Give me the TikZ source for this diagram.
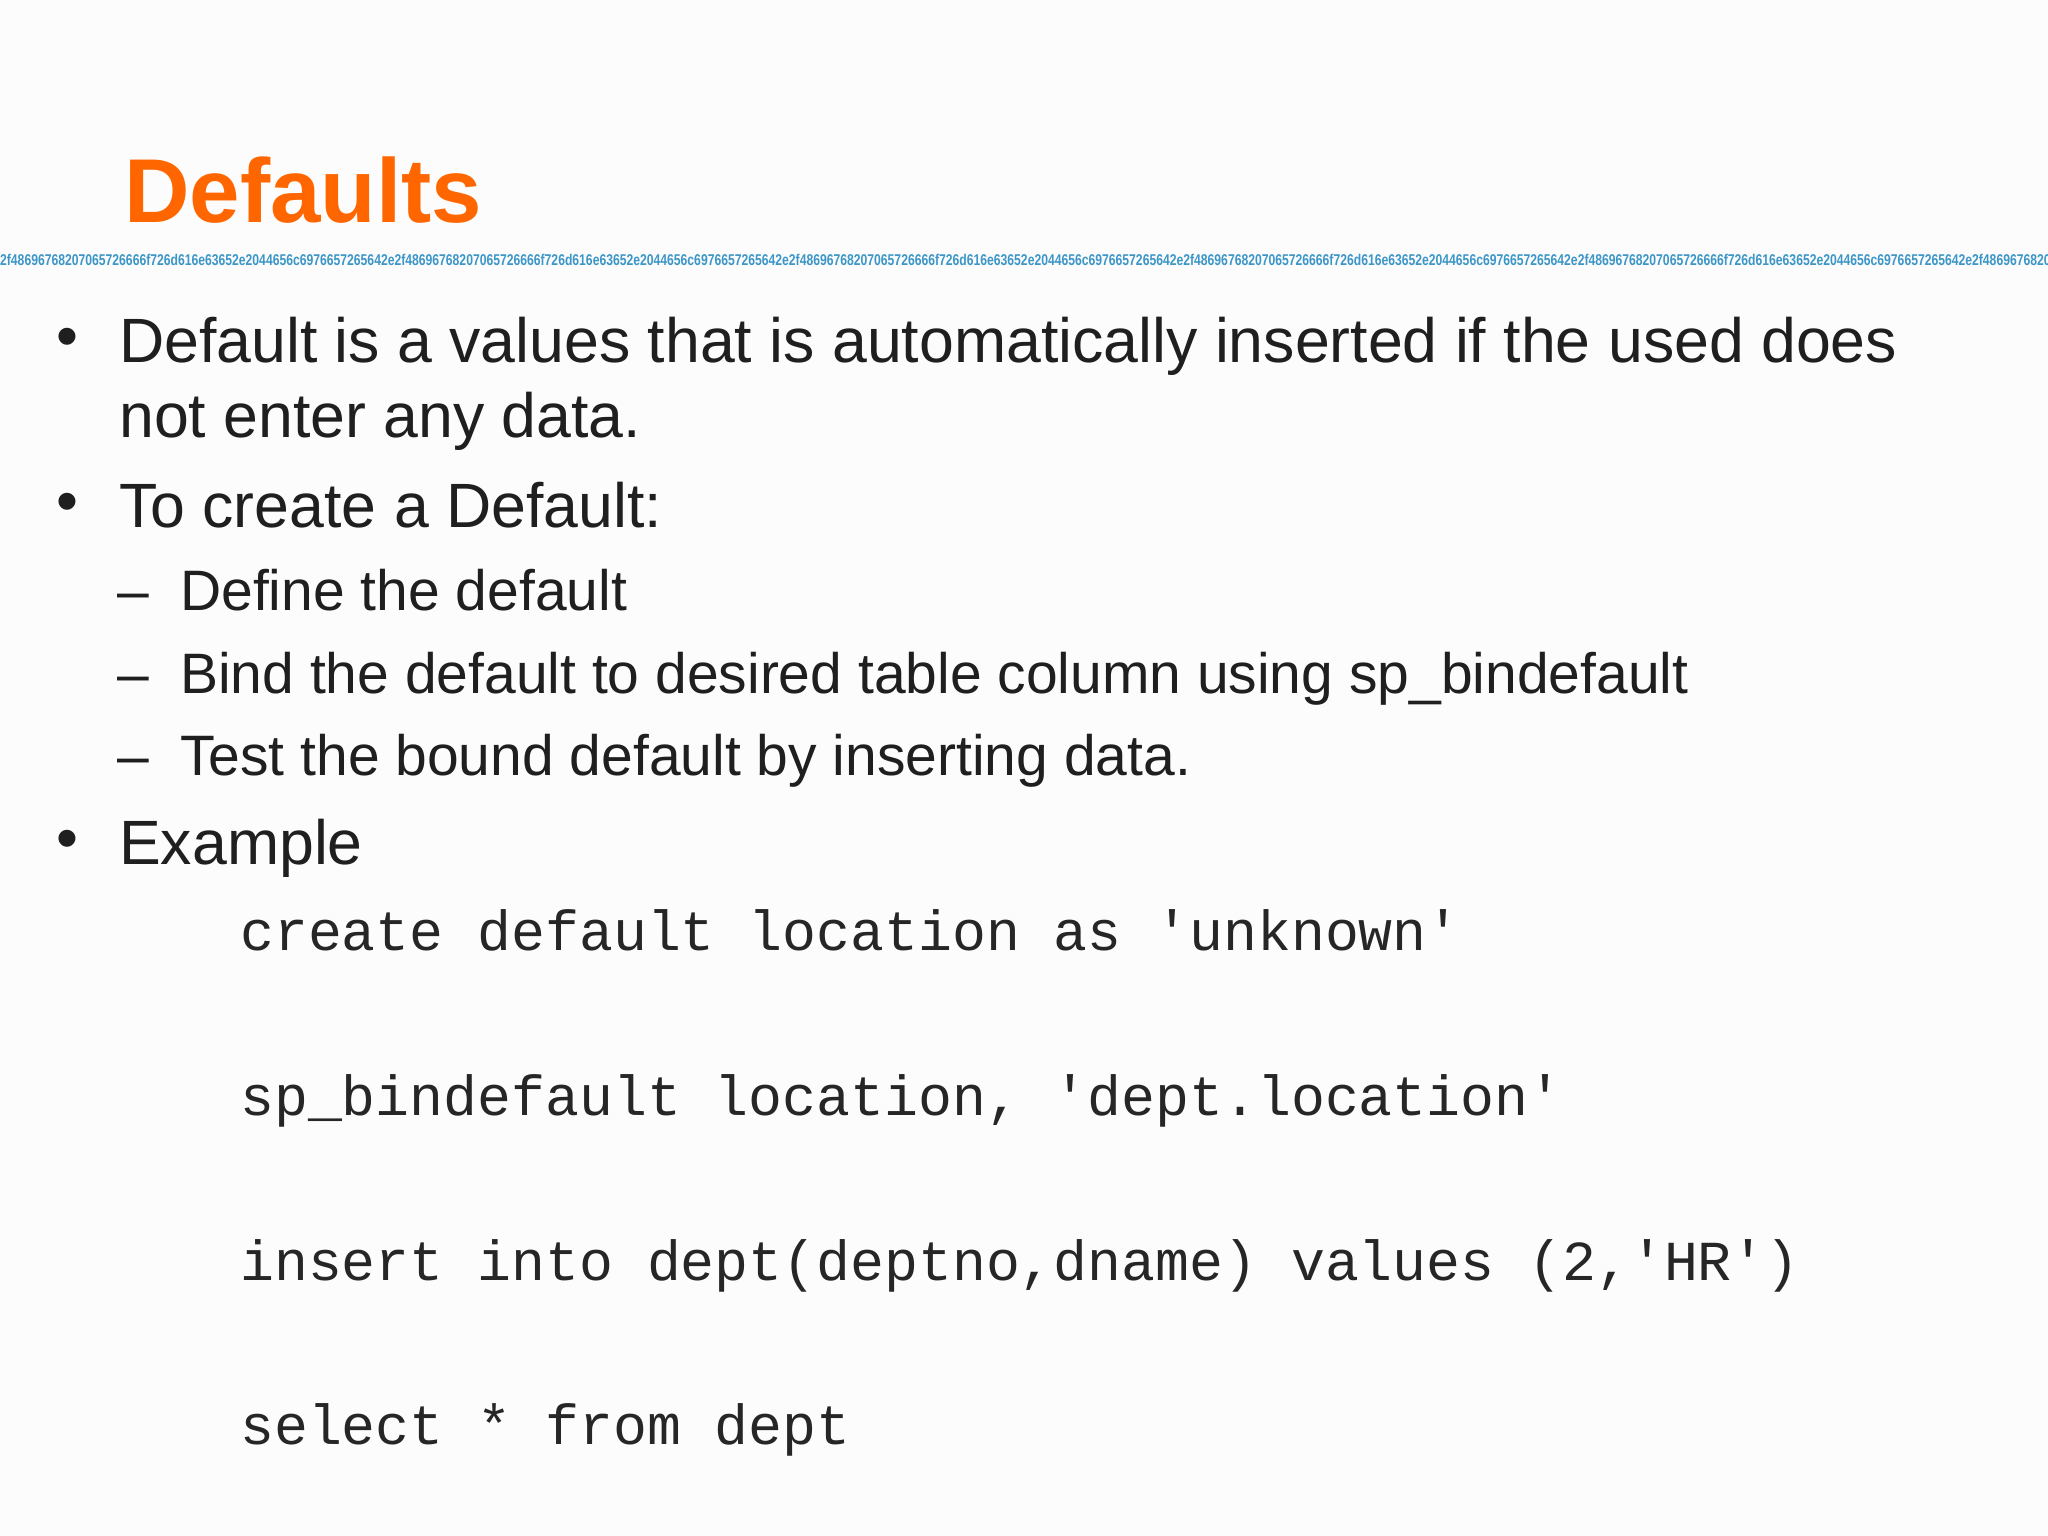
\documentclass[tikz,border=0pt]{standalone}
\usepackage{fontspec}
\setmainfont{Liberation Sans}
\newfontfamily\codefont{Liberation Mono}
\newfontfamily\hexfont{Liberation Sans}
\begin{document}
\begin{tikzpicture}[x=1pt,y=-1pt,
  txt/.style={anchor=base west,inner sep=0pt,text=black!88},
  body/.style={txt,font=\fontsize{62.6}{70}\selectfont},
  sub/.style={txt,font=\fontsize{57}{62}\selectfont},
  code/.style={txt,font=\codefont\fontsize{56.5}{66}\selectfont,text=black!85}]
\fill[white!98!gray] (0,0) rectangle (2048,1536);
\useasboundingbox (0,0) rectangle (2048,1536);
\node[anchor=base west,inner sep=0pt,text={rgb,255:red,255;green,102;blue,0},font=\bfseries\fontsize{90.7}{110}\selectfont] (title) at (124,222) {Defaults};
\begin{scope}
\clip (0,240) rectangle (2048,275);
\node[anchor=base west,inner sep=0pt,text={rgb,255:red,60;green,150;blue,200},font=\hexfont\bfseries\fontsize{15.6}{16}\selectfont,xscale=0.78] (hex) at (0,265) {2f48696768207065726666f726d616e63652e2044656c6976657265642e2f48696768207065726666f726d616e63652e2044656c6976657265642e2f48696768207065726666f726d616e63652e2044656c6976657265642e2f48696768207065726666f726d616e63652e2044656c6976657265642e2f48696768207065726666f726d616e63652e2044656c6976657265642e2f48696768207065726666f726d616e63652e2044656c6976657265642e};
\end{scope}
\node[body] (b1) at (56,357) {•};
\node[body] (t1) at (119,362) {Default is a values that is automatically inserted if the used does};
\node[body] (t1b) at (119,437) {not enter any data.};
\node[body] (b2) at (56,522) {•};
\node[body] (t2) at (119,527) {To create a Default:};
\node[sub] (d1) at (117,610) {–};
\node[sub] (s1) at (180,610) {Define the default};
\node[sub] (d2) at (117,693) {–};
\node[sub] (s2) at (180,693) {Bind the default to desired table column using sp\_bindefault};
\node[sub] (d3) at (117,775) {–};
\node[sub] (s3) at (180,775) {Test the bound default by inserting data.};
\node[body] (b3) at (56,859) {•};
\node[body] (t3) at (119,864) {Example};
\node[code] (c1) at (240,950) {create default location as 'unknown'};
\node[code] (c2) at (240,1115) {sp\_bindefault location, 'dept.location'};
\node[code] (c3) at (240,1280) {insert into dept(deptno,dname) values (2,'HR')};
\node[code] (c4) at (240,1444) {select * from dept};
\end{tikzpicture}
\end{document}
